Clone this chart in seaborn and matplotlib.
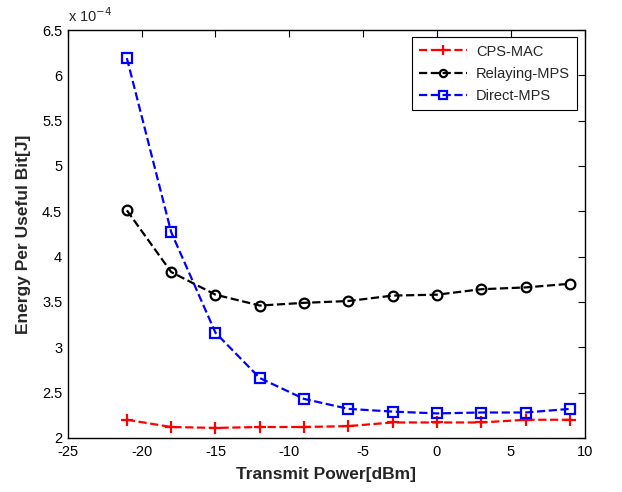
import numpy as np
import pandas as pd
import matplotlib
matplotlib.use("Agg")
import matplotlib.pyplot as plt
import seaborn as sns

# transmit power in dBm
power = [-21, -18, -15, -12, -9, -6, -3, 0, 3, 6, 9]

# energy per useful bit, in units of 1e-4 J
cps_mac = [2.20, 2.12, 2.11, 2.12, 2.12, 2.13, 2.17, 2.17, 2.17, 2.20, 2.20]
relaying_mps = [4.51, 3.83, 3.58, 3.46, 3.49, 3.51, 3.57, 3.58, 3.64, 3.66, 3.70]
direct_mps = [6.19, 4.27, 3.16, 2.66, 2.43, 2.32, 2.29, 2.27, 2.28, 2.28, 2.32]

series_names = ["CPS-MAC", "Relaying-MPS", "Direct-MPS"]

df = pd.DataFrame({
    "power": power * 3,
    "energy": cps_mac + relaying_mps + direct_mps,
    "scheme": np.repeat(series_names, len(power)),
})

sns.set_style("white")
plt.rcParams["font.family"] = ["Liberation Sans", "DejaVu Sans"]
plt.rcParams["axes.unicode_minus"] = False

fig = plt.figure(figsize=(6.22, 4.92), dpi=100)
ax = fig.add_axes([0.109, 0.110, 0.831, 0.829])

styles = {
    "CPS-MAC": dict(color="#ff0000", marker="+", ms=9, mfc="#ff0000"),
    "Relaying-MPS": dict(color="black", marker="o", ms=7, mfc="none"),
    "Direct-MPS": dict(color="#0000ff", marker="s", ms=7, mfc="none"),
}

for name in series_names:
    sub = df[df["scheme"] == name]
    st = styles[name]
    sns.lineplot(data=sub, x="power", y="energy", ax=ax, label=name,
                 color=st["color"], marker=st["marker"], markersize=st["ms"],
                 markeredgewidth=1.6, markeredgecolor=st["color"],
                 markerfacecolor=st["mfc"],
                 linestyle="--", linewidth=1.6, dashes=(4, 2.2))

ax.set_xlim(-25, 10)
ax.set_ylim(2, 6.5)
ax.set_xticks(np.arange(-25, 11, 5))
ax.set_yticks(np.arange(2, 6.51, 0.5))
ax.set_yticklabels(["2", "2.5", "3", "3.5", "4", "4.5", "5", "5.5", "6", "6.5"])
ax.tick_params(axis="both", which="both", labelsize=10.5, direction="in",
               top=True, right=True, length=5, width=0.8, colors="black")
ax.tick_params(axis="x", pad=5)
ax.tick_params(axis="y", pad=4)

for sp in ax.spines.values():
    sp.set_visible(True)
    sp.set_color("black")
    sp.set_linewidth(1.0)

ax.set_xlabel("Transmit Power[dBm]", fontsize=12.5, fontweight="bold", labelpad=6)
ax.set_ylabel("Energy Per Useful Bit[J]", fontsize=12.5, fontweight="bold", labelpad=8)
ax.text(0.0, 1.012, r"x 10$^{-4}$", transform=ax.transAxes, fontsize=10.5,
        ha="left", va="bottom")

leg = ax.legend(loc="upper right", fontsize=10.5, frameon=True, fancybox=False,
                edgecolor="black", framealpha=1, borderaxespad=0.5,
                handlelength=3.3, labelspacing=0.55, markerscale=0.75,
                borderpad=0.5, handletextpad=0.6)
leg.get_frame().set_linewidth(0.8)

fig.savefig("out.png", dpi=100)
